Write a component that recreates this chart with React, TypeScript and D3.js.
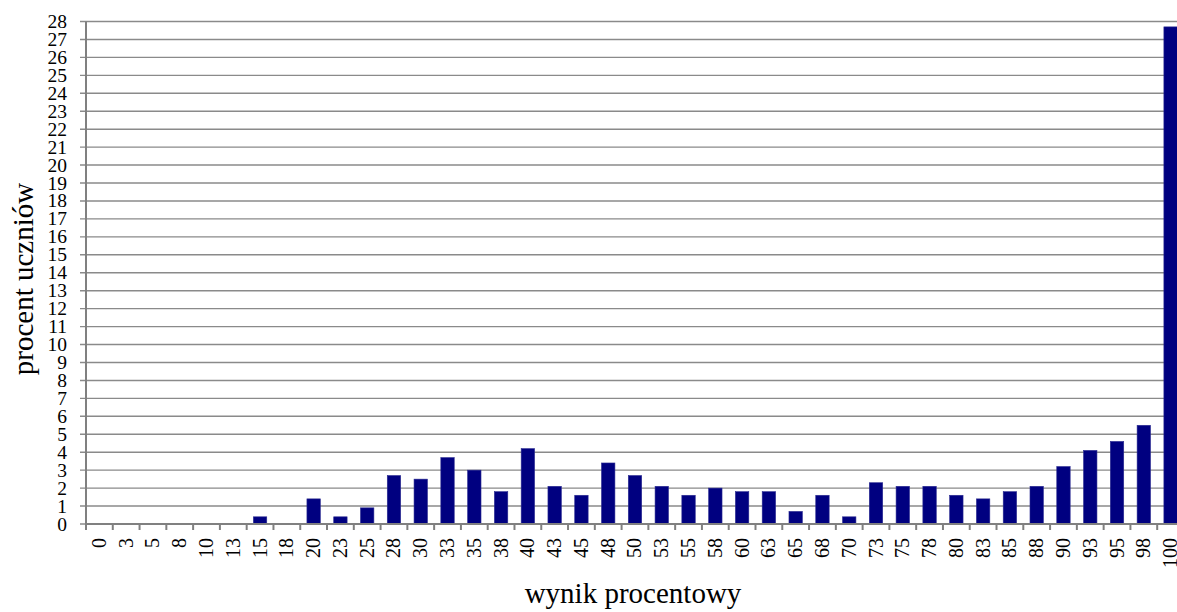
import React from "react";
import * as d3 from "d3";

const categories: string[] = [
  "0", "3", "5", "8", "10", "13", "15", "18", "20", "23", "25", "28", "30", "33",
  "35", "38", "40", "43", "45", "48", "50", "53", "55", "58", "60", "63", "65",
  "68", "70", "73", "75", "78", "80", "83", "85", "88", "90", "93", "95", "98", "100",
];

const values: number[] = [
  0, 0, 0, 0, 0, 0, 0.4, 0, 1.4, 0.4, 0.9, 2.7, 2.5, 3.7,
  3.0, 1.8, 4.2, 2.1, 1.6, 3.4, 2.7, 2.1, 1.6, 2.0, 1.8, 1.8, 0.7,
  1.6, 0.4, 2.3, 2.1, 2.1, 1.6, 1.4, 1.8, 2.1, 3.2, 4.1, 4.6, 5.5, 27.7,
];

const yTicks: number[] = d3.range(0, 29, 1);

const xTitle = "wynik procentowy";
const yTitle = "procent uczniów";

const W = 1177;
const H = 612;
const left = 86;
const stepPx = 26.78;
const right = left + categories.length * stepPx;
const top = 21.5;
const bottom = 524;
const FONT = "'Liberation Serif', 'Times New Roman', Times, serif";

export default function App() {
  const x = d3
    .scaleBand<string>()
    .domain(categories)
    .range([left, right])
    .paddingInner(0.5)
    .paddingOuter(0.25);
  const y = d3.scaleLinear().domain([0, 28]).range([bottom, top]);
  const step = x.step();
  const boundaries = categories.map((c) => (x(c) as number) - step * 0.25);
  boundaries.push(right);

  return (
    <svg
      width={W}
      height={H}
      style={{ position: "absolute", left: 0, top: 0, background: "#fff" }}
    >
      {yTicks.map((t) => (
        <line
          key={"g" + t}
          x1={left - 6}
          x2={W}
          y1={y(t)}
          y2={y(t)}
          stroke="#8a8a8a"
          strokeWidth={1.4}
        />
      ))}
      {yTicks.map((t) => (
        <text
          key={"yl" + t}
          x={67}
          y={y(t) + 6.5}
          textAnchor="end"
          style={{ fontFamily: FONT, fontSize: "19.5px" }}
          fill="#000"
        >
          {t}
        </text>
      ))}
      {categories.map((c, i) => (
        <rect
          key={"b" + c}
          x={x(c)}
          y={y(values[i])}
          width={x.bandwidth()}
          height={bottom - y(values[i])}
          fill="#000080"
          stroke="#2a2a90"
          strokeWidth={0.6}
        />
      ))}
      <line x1={left} x2={left} y1={top} y2={bottom} stroke="#808080" strokeWidth={2} />
      <line x1={left} x2={W} y1={bottom} y2={bottom} stroke="#808080" strokeWidth={2} />
      {boundaries.map((b, i) => (
        <line
          key={"xt" + i}
          x1={b}
          x2={b}
          y1={bottom}
          y2={bottom + 6}
          stroke="#808080"
          strokeWidth={2}
        />
      ))}
      {categories.map((c) => {
        const cx = (x(c) as number) + x.bandwidth() / 2;
        return (
          <text
            key={"xl" + c}
            transform={`translate(${cx + 6.5},${538}) rotate(-90)`}
            textAnchor="end"
            style={{ fontFamily: FONT, fontSize: "20px" }}
            fill="#000"
          >
            {c}
          </text>
        );
      })}
      <text
        x={633}
        y={603}
        textAnchor="middle"
        style={{ fontFamily: FONT, fontSize: "29px" }}
        fill="#000"
      >
        {xTitle}
      </text>
      <text
        transform={`translate(33,279) rotate(-90)`}
        textAnchor="middle"
        style={{ fontFamily: FONT, fontSize: "29px" }}
        fill="#000"
      >
        {yTitle}
      </text>
    </svg>
  );
}
